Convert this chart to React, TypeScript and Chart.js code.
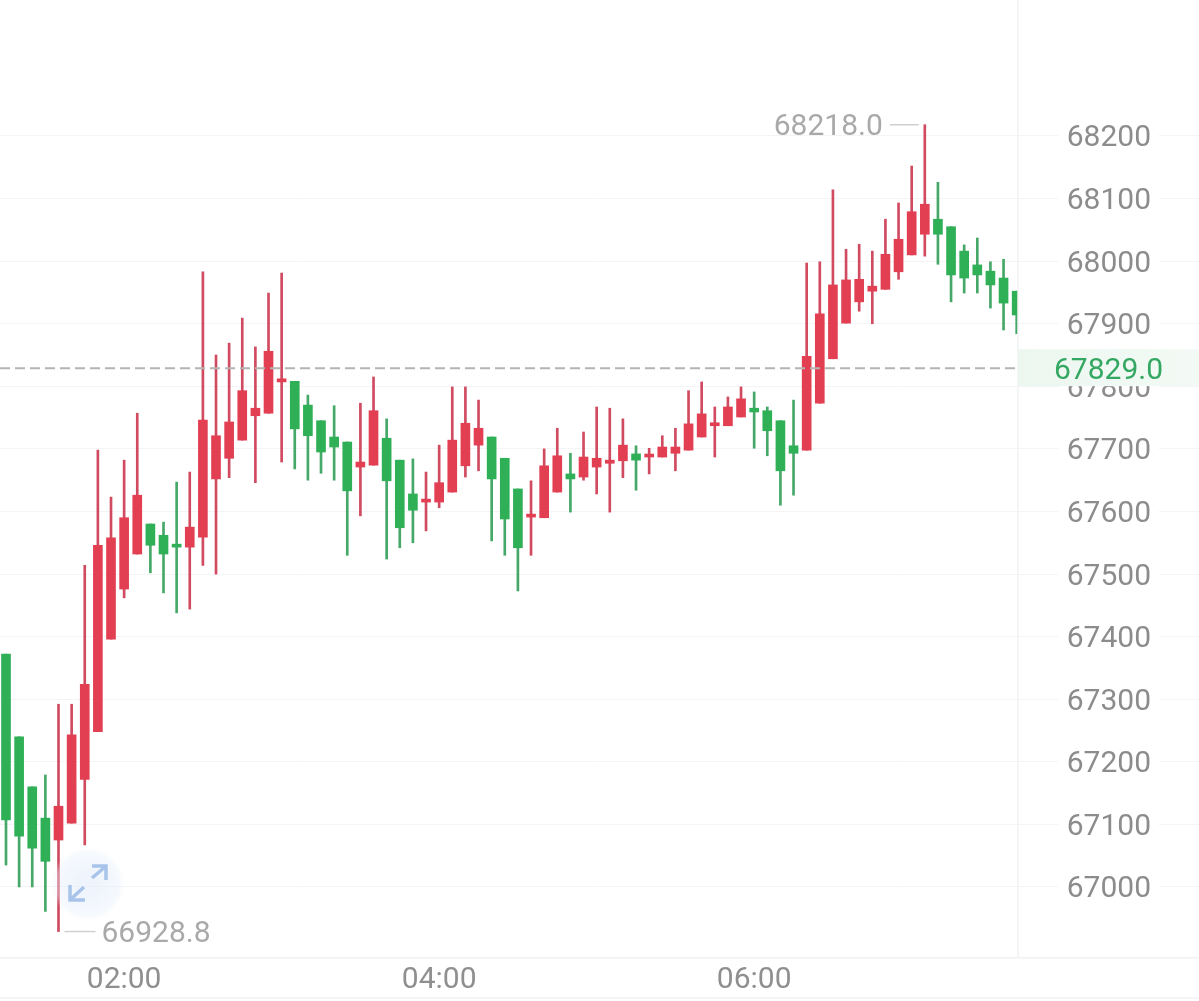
import React, { useEffect, useRef } from "react";
import { Chart, registerables } from "chart.js";

Chart.register(...registerables);

const opens = [67372,67240,67160,67110,67075,67102,67172,67248,67396,67476,67532,67580,67562,67546,67543,67559,67652,67685,67714,67753,67757,67807,67808,67770,67745,67719,67711,67671,67674,67717,67682,67628,67615,67615,67631,67673,67706,67719,67685,67636,67591,67590,67631,67660,67655,67671,67677,67681,67692,67687,67687,67693,67698,67719,67737,67737,67751,67765,67761,67745,67705,67698,67773,67844,67901,67935,67952,67955,67983,68010,68043,68067,68055,68016,67994,67984,67973,67952];
const closes = [67107,67081,67062,67041,67129,67243,67324,67546,67558,67590,67626,67546,67532,67543,67575,67746,67721,67743,67793,67765,67856,67812,67732,67721,67695,67703,67633,67679,67761,67649,67574,67602,67618,67646,67714,67741,67733,67652,67588,67542,67593,67673,67689,67652,67687,67685,67682,67706,67682,67689,67703,67703,67740,67756,67738,67767,67780,67759,67729,67665,67693,67848,67916,67962,67970,67971,67960,68011,68035,68079,68091,68043,67978,67973,67978,67962,67933,67914];
const highs = [67372,67240,67160,67179,67292,67292,67514,67698,67623,67682,67757,67580,67583,67647,67663,67983,67850,67869,67909,67863,67949,67981,67808,67786,67745,67769,67711,67773,67815,67748,67682,67684,67663,67706,67799,67799,67778,67719,67685,67636,67649,67700,67733,67693,67727,67767,67765,67748,67705,67701,67721,67733,67793,67807,67767,67783,67799,67791,67767,67745,67778,67997,67999,68114,68019,68027,68016,68067,68093,68152,68218,68126,68055,68026,68037,67999,68003,67952];
const lows = [67035,67000,67000,66961,66928.8,67102,67067,67248,67396,67462,67532,67502,67470,67438,67444,67514,67500,67654,67714,67646,67757,67679,67668,67650,67661,67650,67530,67593,67674,67524,67542,67550,67569,67606,67631,67655,67665,67553,67530,67473,67530,67590,67631,67599,67650,67628,67599,67654,67634,67660,67687,67665,67698,67719,67687,67737,67751,67701,67689,67610,67626,67698,67773,67844,67901,67920,67900,67955,67971,68010,68008,67995,67935,67949,67949,67925,67890,67884];

const timeTicks = [9, 33, 57];
const timeLabels = ["02:00", "04:00", "06:00"];
const priceTicks = [67000,67100,67200,67300,67400,67500,67600,67700,67800,67900,68000,68100,68200];

const lastPrice = 67829.0;
const highPrice = 68218.0;
const highIndex = 70;
const lowPrice = 66928.8;
const lowIndex = 4;

const RED = "#e23f53";
const RED_WICK = "#d04a60";
const GREEN = "#2fb057";
const GREEN_WICK = "#45a868";
const FONT = "Roboto";

const overlay = {
  id: "overlay",
  afterDraw(chart: any) {
    const { ctx, scales } = chart;
    const x = scales.x;
    const y = scales.y;
    ctx.save();

    // panel separators
    ctx.strokeStyle = "#f1f2f4";
    ctx.lineWidth = 1.5;
    ctx.beginPath();
    ctx.moveTo(1018, 0);
    ctx.lineTo(1018, 958);
    ctx.moveTo(0, 998);
    ctx.lineTo(1199, 998);
    ctx.stroke();

    // last price
    const py = y.getPixelForValue(lastPrice);
    const grad = ctx.createLinearGradient(1018, 0, 1199, 0);
    grad.addColorStop(0, "#ecf7f0");
    grad.addColorStop(1, "#f3faf5");
    ctx.fillStyle = grad;
    ctx.fillRect(1018, py - 19, 181, 37);
    ctx.strokeStyle = "#b4b4b4";
    ctx.lineWidth = 2;
    ctx.setLineDash([10, 5]);
    ctx.beginPath();
    ctx.moveTo(0, py);
    ctx.lineTo(1015, py);
    ctx.stroke();
    ctx.setLineDash([]);

    ctx.font = `30px ${FONT}`;
    ctx.textBaseline = "middle";
    ctx.fillStyle = "#34a862";
    ctx.textAlign = "left";
    ctx.fillText(lastPrice.toFixed(1), 1054, py + 3);

    // high and low markers
    ctx.fillStyle = "#a9a9a9";
    ctx.strokeStyle = "#cfcfcf";
    ctx.lineWidth = 1.5;
    const hx = x.getPixelForValue(highIndex);
    const hy = y.getPixelForValue(highPrice);
    ctx.beginPath();
    ctx.moveTo(hx - 35, hy);
    ctx.lineTo(hx - 6, hy);
    ctx.stroke();
    ctx.textAlign = "right";
    ctx.fillText(highPrice.toFixed(1), hx - 42, hy + 3);
    const lx = x.getPixelForValue(lowIndex);
    const ly = y.getPixelForValue(lowPrice);
    ctx.beginPath();
    ctx.moveTo(lx + 6, ly);
    ctx.lineTo(lx + 37, ly);
    ctx.stroke();
    ctx.textAlign = "left";
    ctx.fillText(lowPrice.toFixed(1), lx + 43, ly + 3);

    // expand button
    const g = ctx.createRadialGradient(88, 884, 10, 88, 884, 37);
    g.addColorStop(0, "rgba(226,236,250,0.55)");
    g.addColorStop(0.8, "rgba(232,240,251,0.4)");
    g.addColorStop(1, "rgba(240,245,252,0)");
    ctx.fillStyle = g;
    ctx.beginPath();
    ctx.arc(88, 884, 37, 0, Math.PI * 2);
    ctx.fill();
    ctx.strokeStyle = "#a9c4ea";
    ctx.lineWidth = 3.5;
    ctx.beginPath();
    ctx.moveTo(92, 866);
    ctx.lineTo(106, 866);
    ctx.lineTo(106, 880);
    ctx.moveTo(105, 867);
    ctx.lineTo(92, 878);
    ctx.moveTo(70, 885);
    ctx.lineTo(70, 900);
    ctx.lineTo(85, 900);
    ctx.moveTo(71, 899);
    ctx.lineTo(84, 887);
    ctx.stroke();

    ctx.restore();
  },
};

export default function App() {
  const ref = useRef<HTMLCanvasElement | null>(null);
  useEffect(() => {
    document.body.style.margin = "0";
    document.body.style.background = "#ffffff";
    const bodies = opens.map((o, i) => ({ x: i, y: [o, closes[i]] }));
    const wicks = highs.map((h, i) => ({ x: i, y: [lows[i], h] }));
    const up = opens.map((o, i) => closes[i] >= o);
    const clip = { left: 0, right: -181, top: 0, bottom: 0 };
    const chart = new Chart(ref.current as HTMLCanvasElement, {
      type: "bar",
      data: {
        datasets: [
          {
            data: bodies as any,
            backgroundColor: up.map((u) => (u ? RED : GREEN)),
            barThickness: 9,
            minBarLength: 3,
            borderWidth: 0,
            grouped: false,
            order: 0,
            clip,
          } as any,
          {
            data: wicks as any,
            backgroundColor: up.map((u) => (u ? RED_WICK : GREEN_WICK)),
            barThickness: 2,
            borderWidth: 0,
            grouped: false,
            order: 1,
            clip,
          } as any,
        ],
      },
      options: {
        responsive: false,
        animation: false,
        events: [],
        layout: { padding: 0, autoPadding: false },
        plugins: { legend: { display: false }, tooltip: { enabled: false } },
        scales: {
          x: {
            type: "linear",
            offset: false,
            min: -0.457,
            max: 90.89,
            grid: { display: false, drawTicks: false },
            border: { display: true, color: "#f1f2f4", width: 1.5 },
            afterFit(s: any) {
              s.height = 43;
            },
            afterBuildTicks(s: any) {
              s.ticks = timeTicks.map((value) => ({ value }));
            },
            ticks: {
              autoSkip: false,
              maxRotation: 0,
              padding: 4,
              color: "#8f8f8f",
              font: { family: FONT, size: 30 },
              callback: (v: any) => timeLabels[timeTicks.indexOf(Number(v))] ?? "",
            },
          },
          y: {
            type: "linear",
            position: "right",
            min: 66886.5,
            max: 68417.3,
            grid: { color: "#f3f4f6", lineWidth: 1, drawTicks: false },
            border: { display: false },
            afterFit(s: any) {
              s.width = 0;
            },
            afterBuildTicks(s: any) {
              s.ticks = priceTicks.map((value) => ({ value }));
            },
            ticks: {
              mirror: true,
              padding: -48,
              labelOffset: 3,
              color: "#8c8c8c",
              font: { family: FONT, size: 30 },
              showLabelBackdrop: true,
              backdropColor: "#ffffff",
              backdropPadding: { left: 8, right: 8, top: 0, bottom: 0 },
              callback: (v: any) => String(v),
            } as any,
          },
        },
      },
      plugins: [overlay],
    });
    return () => chart.destroy();
  }, []);
  return (
    <div style={{ position: "absolute", left: 0, top: 0, width: 1199, height: 1001 }}>
      <canvas ref={ref} width={1199} height={1001} style={{ display: "block" }} />
    </div>
  );
}
